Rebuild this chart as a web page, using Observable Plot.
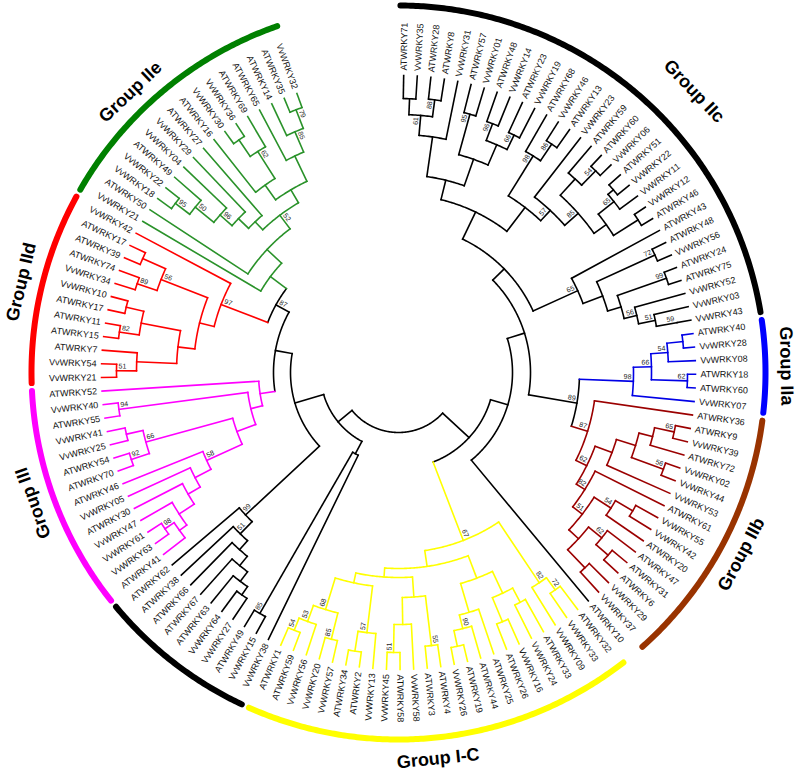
<!DOCTYPE html>
<html><head><meta charset="utf-8">
<script src="https://cdn.jsdelivr.net/npm/d3@7"></script>
<script src="https://cdn.jsdelivr.net/npm/@observablehq/plot@0.6"></script>
<style>body{margin:0;background:#fff}</style>
</head><body><div id="chart"></div>
<script>
// ---------- leaf names (clockwise from the top) ----------
const leavesIIc = ["ATWRKY71","VvWRKY35","ATWRKY28","ATWRKY8","VvWRKY31","ATWRKY57","VvWRKY01","ATWRKY48","VvWRKY14","ATWRKY23","VvWRKY19","ATWRKY68","VvWRKY46","ATWRKY13","VvWRKY23","ATWRKY59","ATWRKY60","VvWRKY06","ATWRKY51","VvWRKY22","VvWRKY11","VvWRKY12","ATWRKY46","ATWRKY43","ATWRKY48","VvWRKY56","ATWRKY24","ATWRKY75","VvWRKY52","VvWRKY03","VvWRKY43"];
const leavesIIa = ["ATWRKY40","VvWRKY28","VvWRKY08","ATWRKY18","ATWRKY60","VvWRKY07"];
const leavesIIb = ["ATWRKY36","ATWRKY9","VvWRKY39","ATWRKY72","VvWRKY02","VvWRKY44","VvWRKY53","ATWRKY61","VvWRKY55","VvWRKY42","ATWRKY20","ATWRKY47","ATWRKY31","ATWRKY6","VvWRKY29","VvWRKY37"];
const leavesX10 = ["ATWRKY10"];
const leavesIC = ["ATWRKY32","VvWRKY33","VvWRKY09","ATWRKY33","VvWRKY24","VvWRKY16","ATWRKY26","ATWRKY25","ATWRKY44","ATWRKY19","VvWRKY26","ATWRKY4","ATWRKY3","VvWRKY58","ATWRKY58","VvWRKY45","VvWRKY13","ATWRKY2","ATWRKY34","VvWRKY57","VvWRKY20","VvWRKY56","ATWRKY59","ATWRKY1"];
const leavesBL = ["VvWRKY38","VvWRKY15","ATWRKY49","VvWRKY27","VvWRKY64","ATWRKY63","ATWRKY67","ATWRKY66","ATWRKY38","ATWRKY62"];
const leavesIII = ["ATWRKY41","VvWRKY63","VvWRKY61","VvWRKY47","ATWRKY30","VvWRKY05","ATWRKY46","ATWRKY70","ATWRKY54","VvWRKY25","VvWRKY41","ATWRKY55","VvWRKY40","ATWRKY52"];
const leavesIId = ["VvWRKY21","VvWRKY54","ATWRKY7","ATWRKY15","ATWRKY11","ATWRKY17","VvWRKY10","VvWRKY34","ATWRKY74","ATWRKY39","ATWRKY17","VvWRKY42"];
const leavesIIe = ["VvWRKY21","ATWRKY50","VvWRKY18","VvWRKY22","ATWRKY49","VvWRKY04","VvWRKY29","ATWRKY27","ATWRKY16","VvWRKY30","VvWRKY36","ATWRKY69","ATWRKY65","ATWRKY14","ATWRKY35","VvWRKY32"];

// ---------- topology: [node depth, bootstrap, ...children]; numbers = leaf index in group ----------
const treeIIc = [148,"",[178,"",[198,"",[238,"",[258,"61",[274,"",0,1],[275,"88",2,3]],4],[226,"",[268,"95",5,6],[248,"",[266,"96",7,8],[264,"66",9,10]]]],[208,"",[255,"98",11,[275,"86",12,13]],[222,"57",14,[240,"85",[262,"",15,[282,"54",16,17]],[255,"",[275,"65",[282,"",18,19],20],[284,"",21,22]]]]]],[197,"65",23,[218,"",[282,"72",24,25],[232,"",[284,"99",26,27],[245,"56",28,[262,"51",29,[283,"59",30]]]]]]];
const treeIIa = [235,"98",[253,"66",[270,"54",[286,"",0,1],2],[289,"62",3,4]],5];
const treeIIb = [198,"87",0,[210,"62",[228,"",[248,"",[262,"",[282,"65",1,2],3],[282,"56",4,5]],6],[220,"82",7,[232,"51",[252,"54",[272,"",8,9],10],[245,"",[262,"62",11,[278,"",12,13]],[270,"",14,15]]]]]];
const treeX10 = 0;
const treeIC = [180,"67",[253,"82",[268,"72",0,1],2],[196,"",[220,"",[244,"",[260,"",3,4],[270,"",5,6]],[250,"",7,[264,"90",8,[280,"",9,10]]]],[205,"",[225,"",[275,"55",11,12],[252,"",13,[280,"51",14,15]]],[215,"",[262,"57",16,[282,"",17,18]],[248,"68",[275,"85",19,20],[265,"53",21,[278,"54",22,23]]]]]]];
const treeBLa = [92,"",0,[278,"85",1,2]];
const treeBLb = [209,"99",[226,"51",[238,"",[250,"",[262,"",[272,"",3,4],5],6],7],8],9];
const treeIII = [140,"",[152,"",[172,"",[211,"58",[229,"",[243,"",[261,"",[270,"",0,[281,"98",1,2]],3],4],5],6],[262,"66",[281,"92",7,8],[279,"",9,10]]],[282,"94",11,12]],13];
const treeIId = [190,"97",[205,"",[222,"",[262,"",[282,"51",0,1],2],[262,"",[282,"82",3,4],[280,"",5,6]]],[255,"56",[276,"89",7,8],[280,"",9,10]]],11];
const treeIIe = [160,"",0,[180,"",1,[197,"52",[208,"",[222,"",[238,"96",[262,"50",[280,"95",2,3],4],5],6],7],[212,"",[230,"",8,[262,"62",[282,"",9,10],11]],[240,"",12,[262,"85",13,[282,"79",14,15]]]]]]];
const backbone = [60,"",[96,"",[114,"",[132,"","IIc",[181,"89","IIa","IIb"]],"X10"],"IC"],[78,"","BL:a",[108,"","BL:b",[125,"","III",[140,"87","IId","IIe"]]]]];

const groupKeys   = ["IIc","IIa","IIb","X10","IC","BL","III","IId","IIe"];
const groupTitles = ["Group IIc","Group IIa","Group IIb","","Group I-C","","Group III","Group IId","Group IIe"];
const groupLeaves = [leavesIIc,leavesIIa,leavesIIb,leavesX10,leavesIC,leavesBL,leavesIII,leavesIId,leavesIIe];
const subtrees = {IIc:treeIIc, IIa:treeIIa, IIb:treeIIb, X10:treeX10, IC:treeIC, "BL:a":treeBLa, "BL:b":treeBLb, III:treeIII, IId:treeIId, IIe:treeIIe};

// ---------- styles / layout ----------
const branchColors = ["#000000","#0000e6","#9b0000","#000000","#ffff00","#000000","#ff00ff","#ff0000","#2a922a"];
const bandColors   = ["#000000","#0000ff","#993300",null,"#ffff00","#000000","#ff00ff","#ff0000","#008000"];
const titleAngleShift  = [6, 0, 0, 0, 1, 0, 1, 0, -4];
const titleRadiusShift = [20, 0, 0, 0, 0, 0, 0, 0, 0];
const W = 800, H = 774, CX = 398, CY = 372;
const TIP = 297, R_LABEL = 302, R_BAND = 367, R_TITLE = 388;
const A0 = 1, A1 = 340;
const FONT = "Liberation Sans, Arial, Helvetica, sans-serif";

const offsets = {}; let total = 0;
groupKeys.forEach((k, i) => { offsets[k] = total; total += groupLeaves[i].length; });
const STEP = (A1 - A0) / (total - 1);
const rad = a => a * Math.PI / 180;
const px = (r, a) => r * Math.sin(rad(a));
const py = (r, a) => -r * Math.cos(rad(a));

function build(n, g) {
  if (typeof n === "string") return build(subtrees[n], n.split(":")[0]);
  const gi = groupKeys.indexOf(g);
  const color = gi >= 0 ? branchColors[gi] : "#000000";
  if (typeof n === "number") {
    const idx = offsets[g] + n;
    return {leaf: true, r: TIP, idx, name: groupLeaves[gi][n], angle: A0 + idx * STEP, color};
  }
  const children = n.slice(2).map(c => build(c, g));
  const angle = (children[0].angle + children[children.length - 1].angle) / 2;
  return {r: n[0], b: n[1], children, angle, color};
}
const root = build(backbone, null);

const links = [], arcPts = [], boots = [], tips = [];
let arcId = 0;
function arc(r, a0, a1, color, list, id) {
  const n = Math.max(2, Math.ceil(Math.abs(a1 - a0) / 0.4) + 1);
  for (let i = 0; i < n; i++) {
    const a = a0 + (a1 - a0) * i / (n - 1);
    list.push({x: px(r, a), y: py(r, a), id, color});
  }
}
function walk(node) {
  if (node.leaf) { tips.push(node); return; }
  const cs = node.children;
  if (cs.length > 1) arc(node.r, cs[0].angle, cs[cs.length - 1].angle, node.color, arcPts, arcId++);
  for (const c of cs) {
    links.push({x1: px(node.r, c.angle), y1: py(node.r, c.angle), x2: px(c.r, c.angle), y2: py(c.r, c.angle), color: c.color});
    walk(c);
  }
  if (node.b) {
    const right = node.angle < 180;
    const da = (4.5 / node.r) * 180 / Math.PI * (right ? -1 : 1);
    const a = node.angle + da, r = node.r - 2;
    boots.push({x: px(r, a), y: py(r, a), text: node.b, rot: right ? node.angle - 90 : node.angle - 270, right});
  }
}
walk(root);

const labels = tips.map(t => ({x: px(R_LABEL, t.angle), y: py(R_LABEL, t.angle), name: t.name,
  rot: t.angle < 180 ? t.angle - 90 : t.angle - 270, right: t.angle < 180}));

const bandPts = [], titles = [];
groupKeys.forEach((k, i) => {
  if (!bandColors[i]) return;
  const n = groupLeaves[i].length;
  const a0 = A0 + offsets[k] * STEP - 0.7, a1 = A0 + (offsets[k] + n - 1) * STEP + 0.7;
  arc(R_BAND, a0, a1, bandColors[i], bandPts, "b" + i);
  if (groupTitles[i]) {
    const a = (a0 + a1) / 2 + titleAngleShift[i];
    const r = R_TITLE + titleRadiusShift[i];
    const rot = (a > 90 && a < 200) ? a - 180 : (a > 180 ? a - 360 : a);
    titles.push({x: px(r, a), y: py(r, a), text: groupTitles[i], rot});
  }
});

const chart = Plot.plot({
  width: W, height: H, margin: 0,
  x: {domain: [-CX, W - CX], range: [0, W], axis: null},
  y: {domain: [-CY, H - CY], range: [0, H], axis: null},
  color: {type: "identity"},
  marks: [
    Plot.line(arcPts, {x: "x", y: "y", z: "id", stroke: "color", strokeWidth: 1.6}),
    Plot.link(links, {x1: "x1", y1: "y1", x2: "x2", y2: "y2", stroke: "color", strokeWidth: 1.6, strokeLinecap: "square"}),
    Plot.line(bandPts, {x: "x", y: "y", z: "id", stroke: "color", strokeWidth: 6}),
    Plot.text(labels.filter(d => d.right), {x: "x", y: "y", text: "name", rotate: "rot", textAnchor: "start", lineAnchor: "middle", fontSize: 9, fontFamily: FONT, fill: "#111"}),
    Plot.text(labels.filter(d => !d.right), {x: "x", y: "y", text: "name", rotate: "rot", textAnchor: "end", lineAnchor: "middle", fontSize: 9, fontFamily: FONT, fill: "#111"}),
    Plot.text(boots.filter(d => d.right), {x: "x", y: "y", text: "text", rotate: "rot", textAnchor: "end", lineAnchor: "middle", fontSize: 7, fontFamily: FONT, fill: "#222"}),
    Plot.text(boots.filter(d => !d.right), {x: "x", y: "y", text: "text", rotate: "rot", textAnchor: "start", lineAnchor: "middle", fontSize: 7, fontFamily: FONT, fill: "#222"}),
    Plot.text(titles, {x: "x", y: "y", text: "text", rotate: "rot", textAnchor: "middle", lineAnchor: "middle", fontSize: 18, fontWeight: "bold", fontFamily: FONT, fill: "#000"})
  ]
});
document.getElementById("chart").appendChild(chart);
</script></body></html>
